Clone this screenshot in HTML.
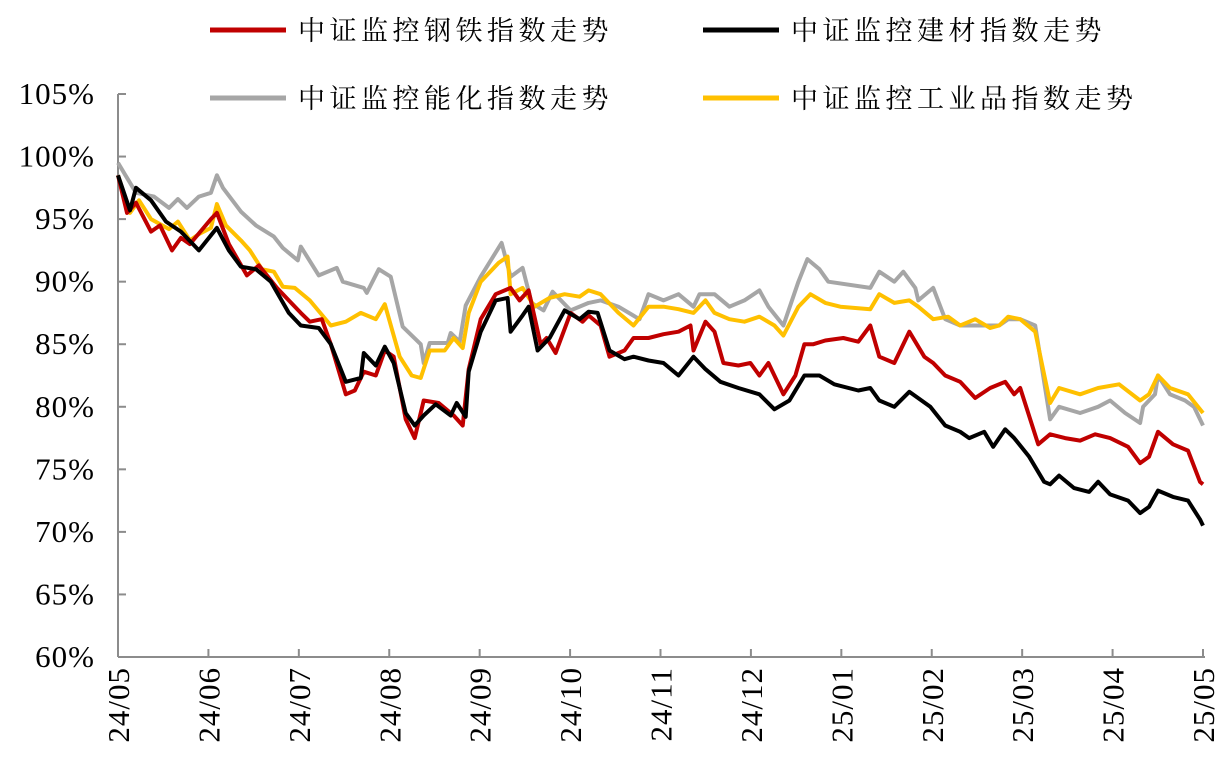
<!DOCTYPE html>
<html><head><meta charset="utf-8">
<style>
html,body{margin:0;padding:0;background:#fff;}
svg{display:block;}
.tk{font-family:"Liberation Serif","Noto Serif CJK SC",serif;font-size:31px;fill:#000;letter-spacing:1px;}
.lg{font-family:"Liberation Serif","Noto Serif CJK SC",serif;font-size:27px;fill:#000;letter-spacing:4.5px;}
</style></head>
<body>
<svg id="chart" width="1232" height="779" xmlns="http://www.w3.org/2000/svg"></svg>
<script>
const xTickLabels=["24/05","24/06","24/07","24/08","24/09","24/10","24/11","24/12","25/01","25/02","25/03","25/04","25/05"];
const yTicks=[60,65,70,75,80,85,90,95,100,105];
const seriesNames=["中证监控钢铁指数走势","中证监控建材指数走势","中证监控能化指数走势","中证监控工业品指数走势"];
const greyDays=[0,6,12,17,20,23,27,31,33,35,41,46,52,55,60,61,67,73,75,82,83,87,91,95,101,102,104,110,111,114,116,121,128,131,135,138,142,145,151,157,161,167,174,177,182,187,192,194,199,204,209,214,217,222,227,230,234,237,251,254,259,262,266,267,272,276,281,294,297,301,306,311,314,321,327,331,336,341,342,346,347,351,356,359,362];
const greyVals=[99.5,97.1,96.8,95.9,96.6,95.9,96.8,97.1,98.5,97.5,95.6,94.5,93.6,92.7,91.7,92.8,90.5,91.1,90.0,89.5,89.1,91.0,90.4,86.4,85.0,83.5,85.1,85.1,85.9,85.2,88.1,90.4,93.1,90.4,91.1,88.3,87.7,89.2,87.7,88.3,88.5,88,87,89,88.5,89,88,89,89,88,88.5,89.3,88,86.5,90,91.8,91,90,89.5,90.8,90,90.8,89.5,88.5,89.5,87,86.5,86.5,87,87,86.5,79,80,79.5,80,80.5,79.5,78.7,80,81,82.5,81,80.5,80,78.5];
const yellowDays=[0,4,7,11,17,20,24,27,31,33,36,41,44,48,52,55,59,64,71,76,81,86,89,94,98,101,104,109,112,115,117,121,127,130,131,135,139,144,149,154,157,161,167,172,177,182,187,192,196,199,204,209,214,219,222,227,231,236,241,251,254,259,264,267,272,277,281,286,291,294,297,301,306,311,314,321,327,334,341,344,347,351,357,362];
const yellowVals=[98.5,95.5,96.5,95,94.2,94.8,93.3,93.8,94.3,96.2,94.5,93.3,92.5,91,90.8,89.6,89.5,88.5,86.5,86.8,87.5,87,88.2,84,82.5,82.3,84.5,84.5,85.5,84.7,87.5,90,91.5,92,89,89.5,88,88.7,89,88.8,89.3,89,87.5,86.5,88,88,87.8,87.5,88.5,87.5,87,86.8,87.2,86.5,85.7,88,89,88.3,88,87.8,89,88.3,88.5,88,87,87.2,86.5,87,86.3,86.5,87.2,87,86,80.3,81.5,81,81.5,81.8,80.5,81,82.5,81.5,81,79.5];
const redDays=[0,3,6,11,14,18,21,24,31,33,37,43,47,53,57,61,64,68,71,76,79,82,86,89,92,96,99,102,107,112,115,117,121,126,131,134,137,141,143,146,151,155,157,161,164,169,172,177,182,187,191,192,196,199,202,207,211,214,217,222,226,229,232,236,242,247,251,254,259,264,269,272,276,281,286,291,296,299,301,307,311,316,321,326,331,337,341,344,347,352,357,361,362];
const redVals=[98.5,95.5,96.3,94,94.5,92.5,93.5,93,95,95.5,93,90.5,91.3,89.5,88.5,87.5,86.8,87,85,81,81.3,82.8,82.5,84.5,84,79,77.5,80.5,80.3,79.3,78.5,83,87,89,89.5,88.5,89.3,85,85.5,84.3,87.5,86.8,87.3,86.5,84,84.5,85.5,85.5,85.8,86,86.5,84.5,86.8,86,83.5,83.3,83.5,82.5,83.5,81,82.5,85,85,85.3,85.5,85.2,86.5,84,83.5,86,84,83.5,82.5,82,80.7,81.5,82,81,81.5,77,77.8,77.5,77.3,77.8,77.5,76.8,75.5,76,78,77,76.5,74,73.8];
const blackDays=[0,4,6,11,16,21,27,33,37,41,46,51,57,61,67,71,76,81,82,86,89,92,96,99,102,106,111,113,116,117,121,126,130,131,135,137,140,144,149,154,157,160,164,169,172,177,182,187,192,196,201,207,214,219,224,229,234,239,247,251,254,259,264,271,276,281,284,289,292,296,299,304,309,311,314,319,324,327,331,337,341,344,347,352,357,361,362];
const blackVals=[98.5,95.7,97.5,96.5,94.8,94,92.5,94.3,92.5,91.2,91,90,87.5,86.5,86.3,85,82,82.3,84.3,83.3,84.8,83.5,79.5,78.5,79.3,80.2,79.3,80.3,79.2,82.8,86,88.5,88.7,86,87.3,88,84.5,85.5,87.7,87,87.6,87.5,84.5,83.8,84,83.7,83.5,82.5,84,83,82,81.5,81,79.8,80.5,82.5,82.5,81.8,81.3,81.5,80.5,80,81.2,80,78.5,78,77.5,78,76.8,78.2,77.5,76,74,73.8,74.5,73.5,73.2,74,73,72.5,71.5,72,73.3,72.8,72.5,71,70.5];

const NS="http://www.w3.org/2000/svg";
const svg=document.getElementById('chart');
const X0=118,X1=1203,Y0=657,Y1=94,DMAX=362;
function xs(d){return X0+(d/DMAX)*(X1-X0);}
function ys(v){return Y0-(v-60)/(105-60)*(Y0-Y1);}
function mk(t,a){const e=document.createElementNS(NS,t);for(const k in a)e.setAttribute(k,a[k]);svg.appendChild(e);return e;}

let e=mk('line',{x1:X0,y1:Y1,x2:X0,y2:Y0,stroke:'#8c8c8c','stroke-width':2});


e=mk('line',{x1:X0,y1:Y0,x2:X1+2,y2:Y0,stroke:'#8c8c8c','stroke-width':2});


yTicks.forEach(v=>{
  const y=ys(v);
  let t=mk('line',{x1:X0,y1:y,x2:X0+8,y2:y,stroke:'#8c8c8c','stroke-width':2});
  
  
  let l=mk('text',{x:95,y:y+10,'text-anchor':'end',class:'tk'});
  l.textContent=v+'%';
  
  
});
xTickLabels.forEach((s,i)=>{
  const x=X0+i*(X1-X0)/(xTickLabels.length-1);
  let t=mk('line',{x1:x,y1:Y0,x2:x,y2:Y0-8,stroke:'#8c8c8c','stroke-width':2});
  
  
  let l=mk('text',{x:0,y:0,'text-anchor':'end',class:'tk',transform:`translate(${x+11},667) rotate(-90)`});
  l.textContent=s;
  
  
});
function line(days,vals,color,name){
  const p=days.map((d,i)=>xs(d).toFixed(1)+','+ys(vals[i]).toFixed(1)).join(' ');
  const l=mk('polyline',{points:p,fill:'none',stroke:color,'stroke-width':4,'stroke-linejoin':'round'});
  
  
}
line(greyDays,greyVals,'#a6a6a6','energy-chemical-line');
line(yellowDays,yellowVals,'#ffc000','industrial-line');
line(redDays,redVals,'#c00000','steel-line');
line(blackDays,blackVals,'#000000','building-material-line');

const lgPos=[[210,30,'#c00000'],[703,30,'#000000'],[210,98,'#a6a6a6'],[703,98,'#ffc000']];
const lgNames=['legend-steel','legend-building-material','legend-energy-chemical','legend-industrial'];
lgPos.forEach((p,i)=>{
  let l=mk('line',{x1:p[0],y1:p[1],x2:p[0]+76,y2:p[1],stroke:p[2],'stroke-width':5});
  
  
  let t=mk('text',{x:p[0]+88,y:p[1]+10,class:'lg'});
  t.textContent=seriesNames[i];
  
  
});
</script>
</body></html>
